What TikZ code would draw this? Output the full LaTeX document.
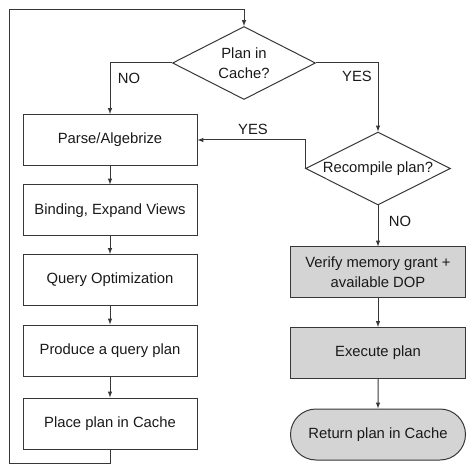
\documentclass[tikz,border=0pt]{standalone}
\usepackage{fontspec}
\setmainfont{Liberation Sans}
\usetikzlibrary{shapes.geometric,shapes.misc}
\definecolor{linegray}{RGB}{55,55,55}
\definecolor{boxgray}{RGB}{212,212,212}
\begin{document}
\begin{tikzpicture}[x=1pt, y=-1pt,
  every node/.style={font=\fontsize{14.8}{20}\selectfont, text=black!90},
  conn/.style={-latex, draw=linegray, line width=1pt},
  stepbox/.style={rectangle, draw=linegray, line width=1pt, minimum width=174pt, minimum height=51pt, inner sep=0pt},
  greybox/.style={stepbox, fill=boxgray},
  decision/.style={diamond, aspect=2, draw=linegray, line width=1pt, inner sep=0pt, align=center},
  endbox/.style={rounded rectangle, draw=linegray, line width=1pt, fill=boxgray, minimum width=175pt, minimum height=51pt, inner sep=0pt}]
\useasboundingbox (0,0) rectangle (474,473);

% decisions
\node (incache) at (244, 63) [decision, minimum width=143pt, minimum height=73pt] {Plan in\\Cache?};
\node (recomp) at (378, 168.5) [decision, minimum width=145pt, minimum height=73pt] {Recompile plan?};

% left column
\node (parse) at (110, 140) [stepbox] {Parse/Algebrize};
\node (bind) at (110, 210.5) [stepbox] {Binding, Expand Views};
\node (optim) at (110, 280) [stepbox] {Query Optimization};
\node (produce) at (110, 350.5) [stepbox] {Produce a query plan};
\node (place) at (110, 423.5) [stepbox] {Place plan in Cache};

% right column
\node (verify) at (378, 272) [greybox, minimum width=175pt, minimum height=50pt, align=center] {Verify memory grant +\\available DOP};
\node (exec) at (378, 353) [greybox, minimum width=175pt] {Execute plan};
\node (ret) at (378, 434.5) [endbox] {Return plan in Cache};

% loop back to the top
\coordinate (loopbot) at (9, 463);
\coordinate (looptop) at (9, 9.5);
\draw[conn] (place.south) |- (loopbot) -- (looptop) -| (incache.north);

\draw[conn] (incache.west) -| (parse.north);
\node at (129, 78) {NO};
\draw[conn] (incache.east) -| (recomp.north);
\node at (357, 76) {YES};

\draw[conn] (recomp.west) |- (parse.east);
\node at (253, 129) {YES};
\draw[conn] (recomp.south) -- (verify.north);
\node at (400, 221) {NO};

\draw[conn] (parse) -- (bind);
\draw[conn] (bind) -- (optim);
\draw[conn] (optim) -- (produce);
\draw[conn] (produce) -- (place);
\draw[conn] (verify) -- (exec);
\draw[conn] (exec) -- (ret);

\end{tikzpicture}
\end{document}
